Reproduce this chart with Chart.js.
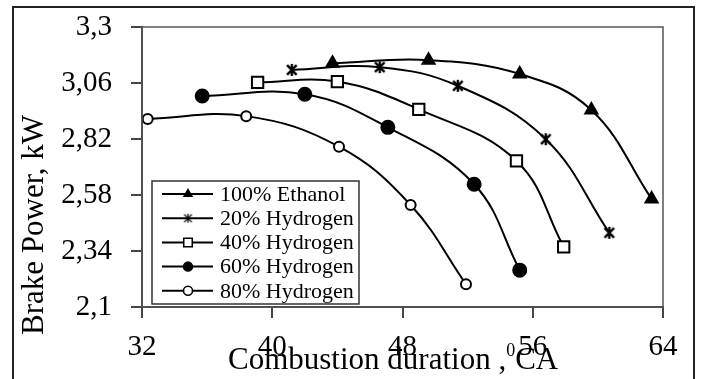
<!DOCTYPE html>
<html>
<head>
<meta charset="utf-8">
<style>
  html, body { margin: 0; padding: 0; background: #fff; }
  #wrap { position: relative; width: 703px; height: 379px; }
</style>
<script src="https://cdn.jsdelivr.net/npm/chart.js@4.4.1/dist/chart.umd.min.js"></script>
</head>
<body>
<div id="wrap"><canvas id="power" width="703" height="379"></canvas></div>
<script>
// combustion duration (deg CA) and brake power (kW) for each blend
const ethanolX = [43.7, 49.6, 55.2, 59.6, 63.3];
const ethanolY = [3.145, 3.158, 3.099, 2.944, 2.563];

const h20X = [41.2, 46.6, 51.4, 56.8, 60.7];
const h20Y = [3.116, 3.128, 3.048, 2.819, 2.418];

const h40X = [39.1, 44.0, 49.0, 55.0, 57.9];
const h40Y = [3.063, 3.066, 2.947, 2.726, 2.358];

const h60X = [35.7, 42.0, 47.1, 52.4, 55.2];
const h60Y = [3.004, 3.012, 2.870, 2.626, 2.258];

const h80X = [32.35, 38.4, 44.1, 48.5, 51.9];
const h80Y = [2.906, 2.918, 2.787, 2.537, 2.198];

const seriesNames = ['100% Ethanol', '20% Hydrogen', '40% Hydrogen', '60% Hydrogen', '80% Hydrogen'];

const xTicks = [32, 40, 48, 56, 64];
const yTicks = [2.1, 2.34, 2.58, 2.82, 3.06, 3.3];
const yTickLabels = ['2,1', '2,34', '2,58', '2,82', '3,06', '3,3'];

const serif = "'Liberation Serif', 'Times New Roman', serif";

// asterisk marker like the spreadsheet one: an X with a vertical stroke
function asterisk(size, lw) {
    const c = document.createElement('canvas');
    c.width = size + 2;
    c.height = size + 2;
    const g = c.getContext('2d');
    const m = 1 + lw / 2, e = size + 1 - lw / 2, mid = (size + 2) / 2;
    g.strokeStyle = '#000';
    g.lineWidth = lw;
    g.beginPath();
    g.moveTo(m, m); g.lineTo(e, e);
    g.moveTo(e, m); g.lineTo(m, e);
    g.moveTo(mid, 1); g.lineTo(mid, size + 1);
    g.stroke();
    return c;
}
const starBig = asterisk(12, 2.4);
const starSmall = asterisk(9, 1.3);

function toPoints(xs, ys) {
    return xs.map((x, i) => ({ x: x, y: ys[i] }));
}

function makeSeries(label, xs, ys, style, radius, fill, legendStyle) {
    return {
        label: label,
        data: toPoints(xs, ys),
        borderColor: '#000',
        borderWidth: 2,
        tension: 0.4,
        fill: false,
        pointStyle: style,
        pointRadius: radius,
        pointBorderWidth: 2,
        pointBorderColor: '#000',
        pointBackgroundColor: fill,
        legendStyle: legendStyle || style
    };
}

const datasets = [
    makeSeries(seriesNames[0], ethanolX, ethanolY, 'triangle', 7, '#000'),
    makeSeries(seriesNames[1], h20X, h20Y, starBig, 6, '#000', starSmall),
    makeSeries(seriesNames[2], h40X, h40Y, 'rect', 8, '#fff'),
    makeSeries(seriesNames[3], h60X, h60Y, 'circle', 6.5, '#000'),
    makeSeries(seriesNames[4], h80X, h80Y, 'circle', 5, '#fff')
];

// outer frame, plot box, axis titles and the boxed legend
const framePlugin = {
    id: 'frame',
    beforeDraw(chart) {
        const ctx = chart.ctx;
        ctx.save();
        ctx.fillStyle = '#fff';
        ctx.fillRect(0, 0, chart.width, chart.height);
        ctx.strokeStyle = '#222';
        ctx.lineWidth = 2;
        ctx.strokeRect(13, 7, 681, 400);
        ctx.restore();
    },
    afterDatasetsDraw(chart) {
        const ctx = chart.ctx;
        const a = chart.chartArea;
        ctx.save();
        ctx.strokeStyle = '#555';
        ctx.lineWidth = 1.5;
        ctx.strokeRect(a.left, a.top, a.right - a.left, a.bottom - a.top);

        // legend
        const lx = a.left + 10, ly = a.top + 154, lw = 207, lh = 123;
        ctx.fillStyle = '#fff';
        ctx.fillRect(lx, ly, lw, lh);
        ctx.strokeStyle = '#333';
        ctx.lineWidth = 1.5;
        ctx.strokeRect(lx, ly, lw, lh);
        ctx.font = '22px ' + serif;
        ctx.textBaseline = 'middle';
        chart.data.datasets.forEach((ds, i) => {
            const y = ly + 13 + i * 24.2;
            ctx.strokeStyle = '#000';
            ctx.lineWidth = 2;
            ctx.beginPath();
            ctx.moveTo(lx + 10, y);
            ctx.lineTo(lx + 61, y);
            ctx.stroke();
            ctx.fillStyle = ds.pointBackgroundColor;
            ctx.lineWidth = 1.5;
            Chart.helpers.drawPoint(ctx, {
                pointStyle: ds.legendStyle,
                radius: ds.pointStyle === 'rect' ? 6 : 4.5,
                rotation: 0,
                borderWidth: 1.5
            }, lx + 36, y);
            ctx.fillStyle = '#000';
            ctx.fillText(ds.label, lx + 68, y + 1);
        });

        // axis titles
        ctx.fillStyle = '#000';
        ctx.font = '31px ' + serif;
        ctx.textBaseline = 'alphabetic';
        ctx.textAlign = 'left';
        let tx = 228;
        const ty = 369;
        const first = 'Combustion duration ,';
        ctx.fillText(first, tx, ty);
        tx += ctx.measureText(first).width;
        ctx.font = '18px ' + serif;
        ctx.fillText('0', tx, ty - 13);
        tx += ctx.measureText('0').width;
        ctx.font = '31px ' + serif;
        ctx.fillText('CA', tx, ty);

        ctx.translate(43, 225);
        ctx.rotate(-Math.PI / 2);
        ctx.textAlign = 'center';
        ctx.fillText('Brake Power, kW', 0, 0);
        ctx.restore();
    }
};

new Chart(document.getElementById('power').getContext('2d'), {
    type: 'line',
    data: { datasets: datasets },
    options: {
        responsive: false,
        animation: false,
        layout: { padding: { left: 0, top: 27, right: 40, bottom: 0 } },
        plugins: {
            legend: { display: false },
            tooltip: { enabled: false }
        },
        scales: {
            x: {
                type: 'linear',
                min: 32,
                max: 64,
                afterBuildTicks: (scale) => { scale.ticks = xTicks.map(v => ({ value: v })); },
                afterFit: (scale) => { scale.height = 72; scale.paddingRight = 0; scale.paddingLeft = 0; },
                ticks: {
                    color: '#000',
                    font: { family: serif, size: 29 },
                    padding: 12,
                    maxRotation: 0
                },
                grid: { drawOnChartArea: false, tickLength: 11, color: '#444', lineWidth: 2 },
                border: { color: '#444', width: 2 }
            },
            y: {
                min: 2.1,
                max: 3.3,
                afterBuildTicks: (scale) => { scale.ticks = yTicks.map(v => ({ value: v })); },
                afterFit: (scale) => { scale.width = 142; scale.paddingTop = 0; scale.paddingBottom = 0; },
                ticks: {
                    color: '#000',
                    font: { family: serif, size: 29 },
                    padding: 19,
                    callback: (v, i) => yTickLabels[i]
                },
                grid: { drawOnChartArea: false, tickLength: 11, color: '#444', lineWidth: 2 },
                border: { color: '#444', width: 2 }
            }
        }
    },
    plugins: [framePlugin]
});
</script>
</body>
</html>
